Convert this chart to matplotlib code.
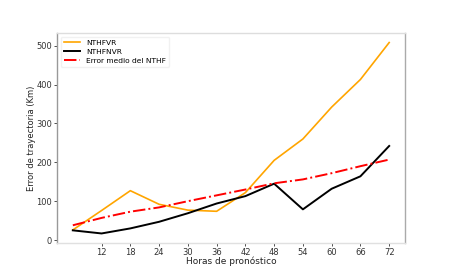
import matplotlib
matplotlib.use("Agg")
import matplotlib.pyplot as plt

horas = [6, 12, 18, 24, 30, 36, 42, 48, 54, 60, 66, 72]
nthfvr = [26, 76, 127, 92, 77, 74, 122, 205, 260, 342, 413, 508]
nthfnvr = [25, 17, 30, 47, 69, 94, 113, 145, 79, 132, 164, 242]
error_medio = [38, 57, 73, 84, 100, 115, 130, 146, 156, 172, 190, 207]
xticks = [12, 18, 24, 30, 36, 42, 48, 54, 60, 66, 72]
yticks = [0, 100, 200, 300, 400, 500]

fig = plt.figure(figsize=(4.5, 2.74), dpi=100)
ax = fig.add_axes([57 / 450, 1 - 243 / 274, 348 / 450, 210 / 274])

ax.plot(horas, nthfvr, color="orange", lw=1.2, label="NTHFVR")
ax.plot(horas, nthfnvr, color="black", lw=1.4, label="NTHFNVR")
ax.plot(horas, error_medio, color="red", lw=1.4, ls="-.", label="Error medio del NTHF")

ax.set_xticks(xticks)
ax.set_yticks(yticks)
ax.tick_params(labelsize=6, length=2, width=0.6, pad=1.5, colors="#333333")
ax.spines["left"].set_color("#999999")
ax.spines["right"].set_color("#aaaaaa")
ax.spines["top"].set_color("#dddddd")
ax.spines["bottom"].set_color("#e0e0e0")
for s in ax.spines.values():
    s.set_linewidth(1.0)

ax.set_xlabel("Horas de pronóstico", fontsize=6.5, labelpad=0, color="#222222")
ax.set_ylabel("Error de trayectoria (Km)", fontsize=6, labelpad=0, color="#222222")

leg = ax.legend(loc="upper left", fontsize=5.4, frameon=True, handlelength=2.2,
                borderpad=0.4, labelspacing=0.35)
leg.get_frame().set_edgecolor("#eeeeee")

fig.savefig("out.png", dpi=100)
